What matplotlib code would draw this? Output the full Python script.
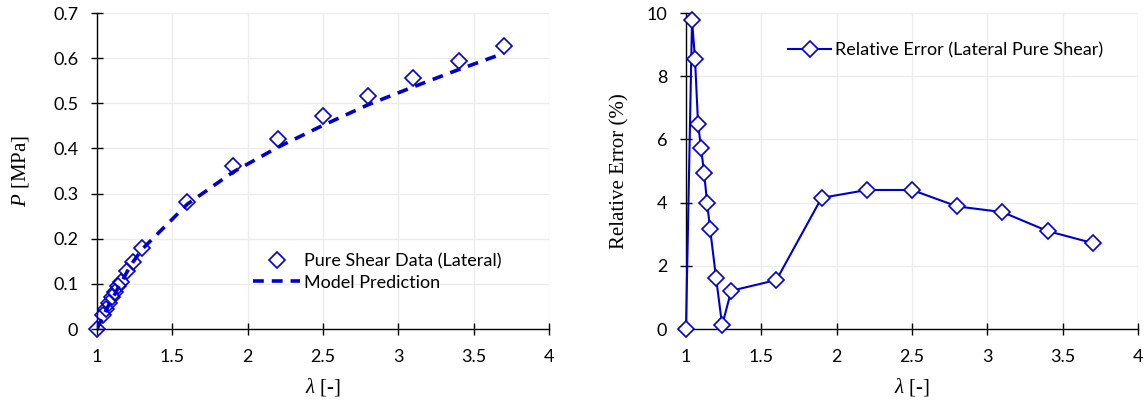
import matplotlib
matplotlib.use('Agg')
import matplotlib.pyplot as plt

# stretch ratio samples shared by both panels
lam = [1.0, 1.04, 1.06, 1.08, 1.10, 1.12, 1.14, 1.16, 1.20, 1.24, 1.30,
       1.6, 1.9, 2.2, 2.5, 2.8, 3.1, 3.4, 3.7]

# measured nominal stress, pure shear (lateral), MPa
p_data = [0.0, 0.030, 0.045, 0.058, 0.070, 0.082, 0.095, 0.105, 0.129, 0.149, 0.179,
          0.281, 0.362, 0.421, 0.472, 0.517, 0.557, 0.593, 0.628]

# model prediction at the same stretches, MPa
p_model = [0.0, 0.0271, 0.0412, 0.0542, 0.0660, 0.0779, 0.0912, 0.1017, 0.1269, 0.1488, 0.1768,
           0.2766, 0.3470, 0.4025, 0.4512, 0.4969, 0.5364, 0.5746, 0.6109]

# relative error between model and data, %
rel_err = [0.0, 9.78, 8.53, 6.50, 5.72, 4.95, 4.00, 3.17, 1.60, 0.12, 1.21,
           1.55, 4.15, 4.40, 4.40, 3.88, 3.70, 3.10, 2.72]

x_ticks = [1, 1.5, 2, 2.5, 3, 3.5, 4]
p_ticks = [0, 0.1, 0.2, 0.3, 0.4, 0.5, 0.6, 0.7]
err_ticks = [0, 2, 4, 6, 8, 10]

blue = '#0000CC'
tick_font = 'Lato'
label_font = 'Liberation Serif'
tick_size = 13

plt.rcParams['mathtext.fontset'] = 'custom'
plt.rcParams['mathtext.it'] = 'Liberation Serif:italic'
plt.rcParams['mathtext.rm'] = 'Liberation Serif'

fig = plt.figure(figsize=(11.46, 4.07), dpi=100)
ax1 = fig.add_axes([0.0846, 0.1916, 0.3944, 0.7764])
ax2 = fig.add_axes([0.5986, 0.1916, 0.3944, 0.7764])


def style_axes(ax, yticks, ylim, ylabel, ylabel_pad):
    ax.set_xlim(1, 4)
    ax.set_ylim(*ylim)
    ax.set_xticks(x_ticks)
    ax.set_xticklabels([f'{t:g}' for t in x_ticks])
    ax.set_yticks(yticks)
    ax.set_yticklabels([f'{t:g}' for t in yticks])
    for lbl in ax.get_xticklabels() + ax.get_yticklabels():
        lbl.set_fontfamily(tick_font)
        lbl.set_fontsize(tick_size)
    ax.tick_params(direction='inout', length=9, width=1.0, color='black')
    ax.tick_params(axis='y', pad=9)
    ax.tick_params(axis='x', pad=10)
    ax.grid(True, color='#ececec', linewidth=1.0)
    ax.set_axisbelow(True)
    for side in ['top', 'right']:
        ax.spines[side].set_visible(False)
    for side in ['left', 'bottom']:
        ax.spines[side].set_linewidth(1.0)
    ax.set_xlabel(r'$\lambda$ [-]', fontfamily=label_font, fontsize=15, labelpad=8)
    ax.set_ylabel(ylabel, fontfamily=label_font, fontsize=15, labelpad=ylabel_pad)


# left: stress-stretch data with model curve
ax1.plot(lam, p_data, linestyle='none', marker='D', markersize=8.5,
         markerfacecolor='none', markeredgecolor=blue, markeredgewidth=1.2,
         label='Pure Shear Data (Lateral)', clip_on=False, zorder=3)
ax1.plot(lam, p_model, linestyle=(0, (3, 2.2)), color=blue, linewidth=2.6,
         label='Model Prediction', zorder=4)
style_axes(ax1, p_ticks, (0, 0.7), r'$P$ [MPa]', 16)
ax1.legend(loc='lower left', bbox_to_anchor=(0.31, 0.07), frameon=False,
           prop={'family': tick_font, 'size': tick_size}, handlelength=2.6,
           handletextpad=0.2, labelspacing=0.3)

# right: relative error
ax2.plot(lam, rel_err, color=blue, linewidth=1.5, marker='D', markersize=8.5,
         markerfacecolor='white', markeredgecolor=blue, markeredgewidth=1.2,
         label='Relative Error (Lateral Pure Shear)', clip_on=False, zorder=3)
style_axes(ax2, err_ticks, (0, 10), 'Relative Error (%)', 12)
ax2.legend(loc='upper left', bbox_to_anchor=(0.19, 0.96), frameon=False,
           prop={'family': tick_font, 'size': tick_size}, handlelength=2.4,
           handletextpad=0.2)

fig.savefig('out.png', dpi=100)
